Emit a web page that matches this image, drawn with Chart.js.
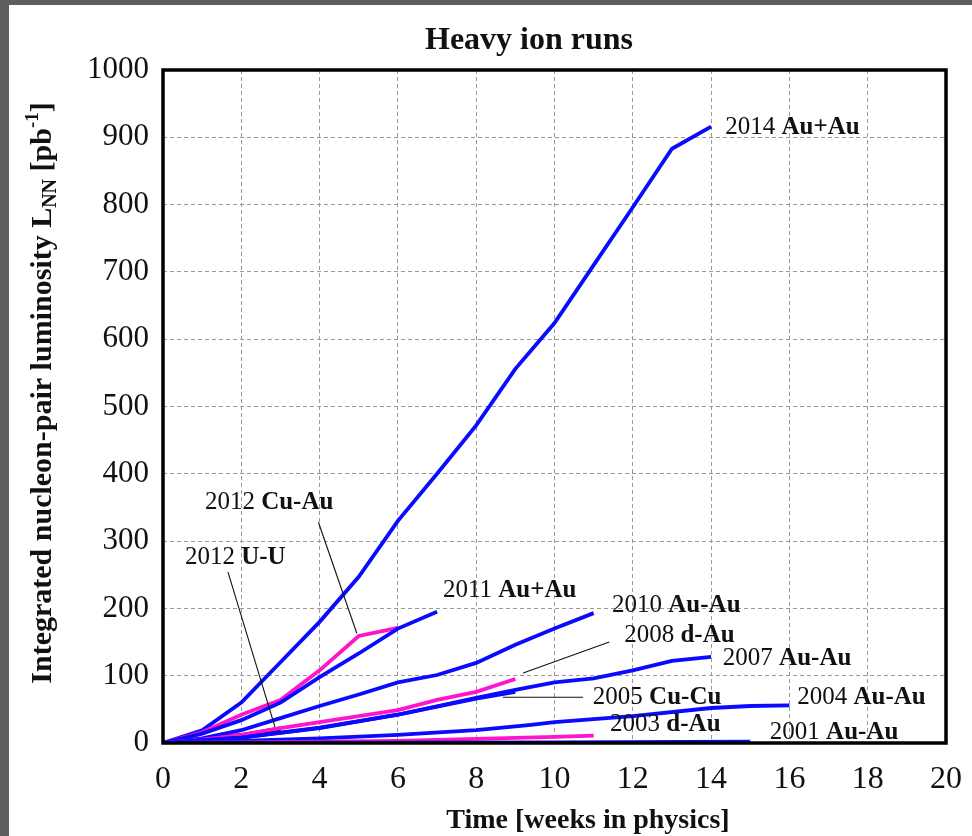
<!DOCTYPE html>
<html><head><meta charset="utf-8">
<script src="https://cdn.jsdelivr.net/npm/chart.js@4.4.0/dist/chart.umd.min.js"></script>
<style>html,body{margin:0;padding:0;background:#5e5e5e;}#wrap{position:absolute;left:0;top:0;width:972px;height:836px;}</style>
</head><body><div id="wrap"><canvas id="c" width="972" height="836"></canvas></div>
<script>
// ---- data (weeks in physics, integrated luminosity pb^-1) ----
const xTicks = [0,2,4,6,8,10,12,14,16,18,20];
const yTicks = [0,100,200,300,400,500,600,700,800,900,1000];

const weeks2014 = [0,1,2,3,4,5,6,7,8,9,10,11,12,13,14];
const lum2014   = [0,19,60,120,180,247,330,400,472,556,624,710,796,883,916];
const weeks2011 = [0,1,2,3,4,5,6,7];
const lum2011   = [0,14,34,60,98,133,170,195];
const weeks2012CuAu = [0,1,2,3,4,5,6];
const lum2012CuAu   = [0,16,42,64,108,159,171];
const weeks2012UU = [0,1,2,3];
const lum2012UU   = [0,5,11,21];
const weeks2010 = [0,1,2,3,4,5,6,7,8,9,10,11];
const lum2010   = [0,7,19,37,55,72,90,101,119,146,170,193];
const weeks2008 = [0,1,2,3,4,5,6,7,8,9];
const lum2008   = [0,5,12,22,31,40,49,64,76,95];
const weeks2007 = [0,2,4,6,8,9,10,11,12,13,14];
const lum2007   = [0,8,22,42,67,79,90,96,108,122,128];
const weeks2005 = [0,2,4,6,8,9];
const lum2005   = [0,8,23,42,66,76];
const weeks2004 = [0,2,4,6,8,9.4,10,12,14,15,16];
const lum2004   = [0,3,7,12,19,27,31,40,52,55,56];
const weeks2003 = [0,2,4,6,8,10,11];
const lum2003   = [0,1,2,3,6,9,11];
const weeks2001 = [0,5,10,15];
const lum2001   = [0,0.5,1,2];

const BLUE = '#0a0aff', MAG = '#ff14cc', BLK = '#000000';
function pts(xs, ys){ return xs.map((x,i)=>({x:x, y:ys[i]})); }
function ds(label, xs, ys, color, w){ return {label, data: pts(xs,ys), borderColor: color, backgroundColor: color, borderWidth: w||3.8, pointRadius:0, tension:0, fill:false}; }

const datasets = [
  ds('2001 Au-Au', weeks2001, lum2001, BLUE),
  ds('2003 d-Au', weeks2003, lum2003, MAG),
  ds('2004 Au-Au', weeks2004, lum2004, BLUE),
  ds('2005 Cu-Cu', weeks2005, lum2005, BLUE),
  ds('2007 Au-Au', weeks2007, lum2007, BLUE),
  ds('2008 d-Au', weeks2008, lum2008, MAG),
  ds('2010 Au-Au', weeks2010, lum2010, BLUE),
  ds('2011 Au+Au', weeks2011, lum2011, BLUE),
  ds('2012 Cu-Au', weeks2012CuAu, lum2012CuAu, MAG),
  ds('2012 U-U', weeks2012UU, lum2012UU, BLK, 5),
  ds('2014 Au+Au', weeks2014, lum2014, BLUE),
];

// label annotations: [year, species, x, y] in data coords
const labels = [
  ['2014',' Au+Au',14.36,915],
  ['2011',' Au+Au',7.15,227],
  ['2010',' Au-Au',11.47,204],
  ['2008',' d-Au',11.78,160],
  ['2007',' Au-Au',14.3,126],
  ['2005',' Cu-Cu',10.98,68],
  ['2004',' Au-Au',16.2,67],
  ['2003',' d-Au',11.42,27],
  ['2001',' Au-Au',15.5,15],
  ['2012',' Cu-Au',1.07,358],
  ['2012',' U-U',0.56,275],
];
// leader lines [x1,y1,x2,y2] in data coords
const leaders = [
  [3.97,328,4.95,163],
  [1.66,254,2.86,24],
  [11.4,150,9.2,104],
  [8.68,68,10.73,68],
];

const SERIF = '"Liberation Serif", "DejaVu Serif", serif';

const bgPlugin = {
  id:'bg',
  beforeDraw(chart){
    const c = chart.ctx;
    c.save();
    c.fillStyle = '#5e5e5e'; c.fillRect(0,0,972,836);
    c.fillStyle = '#ffffff'; c.fillRect(9,5,963,831);
    c.restore();
  }
};

const decoPlugin = {
  id:'deco',
  afterDatasetsDraw(chart){
    const c = chart.ctx, xs = chart.scales.x, ys = chart.scales.y, a = chart.chartArea;
    c.save();
    // leader lines
    c.strokeStyle = '#111'; c.lineWidth = 1.1;
    leaders.forEach(l=>{
      c.beginPath();
      c.moveTo(xs.getPixelForValue(l[0]), ys.getPixelForValue(l[1]));
      c.lineTo(xs.getPixelForValue(l[2]), ys.getPixelForValue(l[3]));
      c.stroke();
    });
    // labels
    c.fillStyle = '#111'; c.textBaseline = 'middle'; c.textAlign = 'left';
    labels.forEach(l=>{
      const px = xs.getPixelForValue(l[2]), py = ys.getPixelForValue(l[3]);
      c.font = '25px ' + SERIF;
      c.fillText(l[0], px, py);
      const w = c.measureText(l[0]).width;
      c.font = 'bold 25px ' + SERIF;
      c.fillText(l[1], px + w, py);
    });
    // frame
    c.strokeStyle = '#000'; c.lineWidth = 3.5;
    c.strokeRect(a.left, a.top, a.right - a.left, a.bottom - a.top);
    // title
    c.textAlign = 'center'; c.textBaseline = 'middle';
    c.font = 'bold 32px ' + SERIF;
    c.fillText('Heavy ion runs', 529, 41);
    // x title
    c.font = 'bold 28px ' + SERIF;
    c.fillText('Time [weeks in physics]', 588, 821);
    // y title rotated with sub/superscript
    c.translate(43, 393); c.rotate(-Math.PI/2);
    const parts = [
      ['Integrated nucleon-pair luminosity L', 'bold 30px ', 0],
      ['NN', 'bold 20px ', 8],
      [' [pb', 'bold 30px ', 0],
      ['-1', 'bold 19px ', -10],
      [']', 'bold 30px ', 0],
    ];
    let total = 0;
    parts.forEach(p=>{ c.font = p[1] + SERIF; total += c.measureText(p[0]).width; });
    let x0 = -total/2;
    c.textAlign = 'left';
    parts.forEach(p=>{ c.font = p[1] + SERIF; c.fillText(p[0], x0, p[2]); x0 += c.measureText(p[0]).width; });
    c.restore();
  }
};

new Chart(document.getElementById('c'), {
  type:'line',
  data:{ datasets },
  plugins:[bgPlugin, decoPlugin],
  options:{
    responsive:false, animation:false, devicePixelRatio:1,
    layout:{ padding:{ left:0, top:70, right:26, bottom:0 } },
    plugins:{ legend:{display:false}, title:{display:false}, tooltip:{enabled:false} },
    scales:{
      x:{ type:'linear', min:0, max:20,
        afterBuildTicks(s){ s.ticks = xTicks.map(v=>({value:v})); },
        afterFit(s){ s.height = 93; s.paddingLeft = 0; s.paddingRight = 0; },
        grid:{ color:'#9a9a9a', lineWidth:1, drawTicks:false },
        border:{ display:false, dash:[4,3] },
        ticks:{ padding:17, color:'#111', font:{ family:SERIF, size:32 }, maxRotation:0, callback:(v)=>String(v) }
      },
      y:{ type:'linear', min:0, max:1000,
        afterBuildTicks(s){ s.ticks = yTicks.map(v=>({value:v})); },
        afterFit(s){ s.width = 163; s.paddingTop = 0; s.paddingBottom = 0; },
        grid:{ color:'#9a9a9a', lineWidth:1, drawTicks:false },
        border:{ display:false, dash:[4,3] },
        ticks:{ padding:14, color:'#111', font:{ family:SERIF, size:31 }, callback:(v)=>String(v) }
      }
    }
  }
});
</script></body></html>
